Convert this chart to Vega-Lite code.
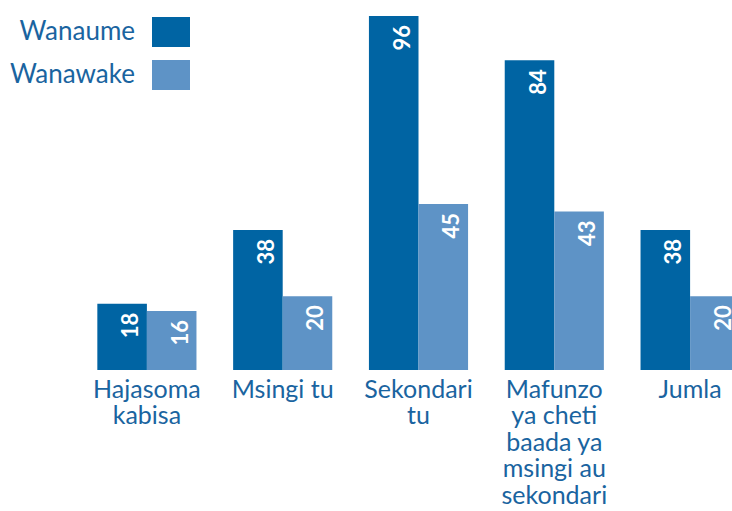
{
  "$schema": "https://vega.github.io/schema/vega-lite/v6.json",
  "width": 679,
  "height": 354,
  "autosize": {"type": "none"},
  "padding": {"left": 79, "top": 16, "right": 0, "bottom": 141},
  "config": {"view": {"stroke": null}, "font": "Lato"},
  "data": {
    "values": [
      {"category": "Hajasoma kabisa", "sex": "Wanaume", "value": 18},
      {"category": "Hajasoma kabisa", "sex": "Wanawake", "value": 16},
      {"category": "Msingi tu", "sex": "Wanaume", "value": 38},
      {"category": "Msingi tu", "sex": "Wanawake", "value": 20},
      {"category": "Sekondari tu", "sex": "Wanaume", "value": 96},
      {"category": "Sekondari tu", "sex": "Wanawake", "value": 45},
      {"category": "Mafunzo ya cheti baada ya msingi au sekondari", "sex": "Wanaume", "value": 84},
      {"category": "Mafunzo ya cheti baada ya msingi au sekondari", "sex": "Wanawake", "value": 43},
      {"category": "Jumla", "sex": "Wanaume", "value": 38},
      {"category": "Jumla", "sex": "Wanawake", "value": 20}
    ]
  },
  "encoding": {
    "x": {
      "field": "category",
      "type": "nominal",
      "sort": ["Hajasoma kabisa", "Msingi tu", "Sekondari tu", "Mafunzo ya cheti baada ya msingi au sekondari", "Jumla"],
      "scale": {"paddingInner": 0.27, "paddingOuter": 0.135},
      "axis": {
        "title": null,
        "domain": false,
        "ticks": false,
        "labelAngle": 0,
        "labelFontSize": 25,
        "labelColor": "#1a64a0",
        "labelPadding": 7,
        "labelLineHeight": 26.5,
        "labelBaseline": "top",
        "labelLimit": 0,
        "labelExpr": "datum.label == 'Hajasoma kabisa' ? ['Hajasoma', 'kabisa'] : datum.label == 'Sekondari tu' ? ['Sekondari', 'tu'] : datum.label == 'Mafunzo ya cheti baada ya msingi au sekondari' ? ['Mafunzo', 'ya cheti', 'baada ya', 'msingi au', 'sekondari'] : datum.label"
      }
    },
    "xOffset": {"field": "sex", "type": "nominal", "sort": ["Wanaume", "Wanawake"], "scale": {"paddingInner": 0, "paddingOuter": 0}},
    "y": {"field": "value", "type": "quantitative", "scale": {"domain": [0, 96], "nice": false}, "axis": null}
  },
  "layer": [
    {
      "mark": {"type": "bar"},
      "encoding": {
        "color": {
          "field": "sex",
          "type": "nominal",
          "scale": {"domain": ["Wanaume", "Wanawake"], "range": ["#0064a3", "#5e93c6"]},
          "legend": {
            "orient": "none",
            "legendX": 73,
            "legendY": -3,
            "title": null,
            "symbolType": "M-1,-0.79L1,-0.79L1,0.79L-1,0.79Z",
            "symbolSize": 1444,
            "symbolStrokeWidth": 0,
            "symbolOpacity": 1,
            "labelFontSize": 26,
            "labelColor": "#1a64a0",
            "labelAlign": "right",
            "labelOffset": -55,
            "rowPadding": 8,
            "labelLimit": 0
          }
        }
      }
    },
    {
      "mark": {"type": "text", "angle": 270, "align": "right", "baseline": "middle", "dx": -9, "dy": 9, "color": "white", "fontWeight": "bold", "fontSize": 22},
      "encoding": {"text": {"field": "value", "type": "quantitative"}}
    }
  ]
}
